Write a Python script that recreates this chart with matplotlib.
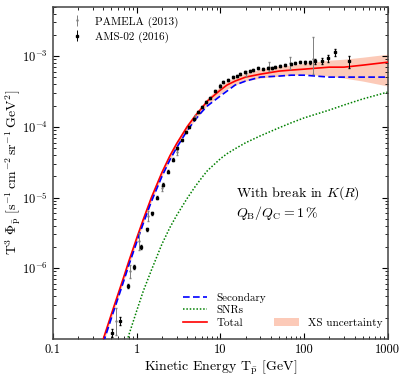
import matplotlib
matplotlib.use('Agg')
import matplotlib.pyplot as plt
import numpy as np
from matplotlib.lines import Line2D
from matplotlib.patches import Patch
from matplotlib.ticker import FixedLocator, FixedFormatter, LogLocator, NullFormatter

plt.rcParams['font.family'] = 'serif'
plt.rcParams['font.serif'] = ['cmr10', 'DejaVu Serif']
plt.rcParams['mathtext.fontset'] = 'cm'
plt.rcParams['axes.formatter.use_mathtext'] = True

# ---- model curves ----
T_grid = [0.4, 0.5, 0.6, 0.7, 0.8, 1, 1.2, 1.5, 2, 2.5, 3, 4, 5, 6, 7, 10, 12, 15, 20, 30, 50, 70,
          100, 200, 300, 500, 1000]
total = [1.0e-7, 2.25e-7, 4.31e-7, 7.46e-7, 1.22e-6, 2.65e-6, 4.90e-6, 1.0e-5, 2.25e-5, 3.91e-5,
         5.77e-5, 1.0e-4, 1.43e-4, 1.85e-4, 2.32e-4, 3.32e-4, 3.91e-4, 4.45e-4, 5.06e-4, 5.57e-4,
         6.15e-4, 6.36e-4, 6.56e-4, 7.0e-4, 7.0e-4, 7.47e-4, 8.23e-4]
secondary = [8.8e-8, 1.98e-7, 3.78e-7, 6.56e-7, 1.07e-6, 2.32e-6, 4.31e-6, 8.79e-6, 1.98e-5, 3.43e-5,
             5.06e-5, 8.79e-5, 1.26e-4, 1.63e-4, 1.98e-4, 2.74e-4, 3.21e-4, 3.91e-4, 4.45e-4, 5.06e-4,
             5.23e-4, 5.39e-4, 5.39e-4, 5.06e-4, 5.06e-4, 5.06e-4, 5.06e-4]
xs_hi = [1.10e-7, 2.48e-7, 4.74e-7, 8.22e-7, 1.34e-6, 2.92e-6, 5.40e-6, 1.10e-5, 2.48e-5, 4.31e-5,
         6.35e-5, 1.10e-4, 1.57e-4, 2.04e-4, 2.56e-4, 3.78e-4, 4.45e-4, 5.06e-4, 5.76e-4, 6.56e-4,
         7.23e-4, 7.47e-4, 7.97e-4, 8.78e-4, 9.07e-4, 9.68e-4, 1.067e-3]
xs_lo = [8.8e-8, 1.98e-7, 3.78e-7, 6.56e-7, 1.07e-6, 2.32e-6, 4.31e-6, 8.79e-6, 1.98e-5, 3.43e-5,
         5.06e-5, 8.79e-5, 1.26e-4, 1.63e-4, 2.04e-4, 2.92e-4, 3.43e-4, 3.91e-4, 4.45e-4, 4.90e-4,
         5.23e-4, 5.39e-4, 5.57e-4, 5.23e-4, 4.90e-4, 4.45e-4, 3.78e-4]
T_snr = [0.7, 0.8, 1, 1.2, 1.5, 2, 2.5, 3, 4, 5, 6, 7, 10, 12, 15, 20, 30, 50, 70, 100, 200, 300,
         500, 1000]
snr = [6.15e-8, 1.10e-7, 2.48e-7, 4.74e-7, 9.37e-7, 2.18e-6, 3.78e-6, 5.57e-6, 9.68e-6, 1.43e-5,
       1.91e-5, 2.40e-5, 3.54e-5, 4.17e-5, 4.90e-5, 5.96e-5, 7.46e-5, 9.68e-5, 1.14e-4, 1.34e-4,
       1.73e-4, 2.04e-4, 2.48e-4, 3.11e-4]

# ---- AMS-02 (2016) ----
ams_T = [0.507, 0.63, 0.787, 0.929, 1.125, 1.33, 1.52, 1.75, 2.06, 2.37, 2.72, 3.03, 3.48, 3.88, 4.22,
         4.84, 5.40, 6.03, 6.73, 7.51, 8.62, 9.89, 10.7, 12.3, 14.2, 15.8, 17.1, 19.7, 22.6, 24.5,
         28.1, 32.3, 37.1, 41.3, 44.9, 51.5, 59.2, 69.7, 77.8, 89.3, 103, 118, 135, 164, 193, 234, 344]
ams_F = [1.22e-7, 1.79e-7, 5.57e-7, 1.03e-6, 1.98e-6, 3.54e-6, 5.96e-6, 1.0e-5, 1.52e-5, 2.32e-5,
         3.43e-5, 5.06e-5, 6.56e-5, 8.5e-5, 1.0e-4, 1.30e-4, 1.63e-4, 1.91e-4, 2.25e-4, 2.56e-4,
         3.21e-4, 3.78e-4, 4.30e-4, 4.6e-4, 5.06e-4, 5.23e-4, 5.57e-4, 5.95e-4, 6.15e-4, 6.35e-4,
         6.78e-4, 6.56e-4, 6.78e-4, 6.78e-4, 7.0e-4, 7.23e-4, 7.47e-4, 7.71e-4, 7.97e-4, 8.23e-4,
         8.23e-4, 8.23e-4, 8.5e-4, 8.5e-4, 9.37e-4, 1.14e-3, 8.5e-4]
ams_rel = [0.12, 0.12, 0.06, 0.06, 0.06, 0.05, 0.05, 0.05, 0.04, 0.04,
           0.04, 0.04, 0.04, 0.04, 0.04, 0.04, 0.04, 0.04, 0.04, 0.04,
           0.04, 0.04, 0.04, 0.04, 0.04, 0.04, 0.04, 0.04, 0.04, 0.04,
           0.04, 0.04, 0.04, 0.04, 0.04, 0.04, 0.04, 0.04, 0.04, 0.04,
           0.05, 0.05, 0.08, 0.10, 0.12, 0.12, 0.20]

# ---- PAMELA (2013) ----
pam_T = [0.566, 0.832, 1.065, 1.36, 2.0, 3.0, 5.0, 10.0, 20.0, 38.0, 68.0, 128.0]
pam_F = [1.8e-7, 9.0e-7, 2.4e-6, 5.4e-6, 1.35e-5, 4.4e-5, 1.38e-4, 3.8e-4, 5.7e-4, 7.0e-4, 7.97e-4, 9.07e-4]
pam_lo = [0.66e-7, 1.8e-7, 0.6e-6, 0.8e-6, 1.2e-6, 3.5e-6, 1.0e-5, 2.5e-5, 4.0e-5, 0.9e-4, 1.4e-4, 3.5e-4]
pam_hi = [0.93e-7, 2.0e-7, 0.7e-6, 0.95e-6, 1.2e-6, 3.5e-6, 1.0e-5, 2.5e-5, 4.0e-5, 1.2e-4, 1.7e-4, 9.4e-4]

x_ticks = [0.1, 1, 10, 100, 1000]
x_ticklabels = ['0.1', '1', '10', '100', '1000']

BAND = '#fbb49b'

fig = plt.figure(figsize=(4.07, 3.79), dpi=100)
ax = fig.add_axes([0.130, 0.106, 0.823, 0.876])

ax.fill_between(T_grid, xs_lo, xs_hi, color=BAND, alpha=0.7, lw=0, zorder=1)
ax.plot(T_snr, snr, color='green', ls=(0, (1, 1.2)), lw=1.1, zorder=2)
ax.plot(T_grid, total, color='red', lw=1.2, zorder=3)
ax.plot(T_grid, secondary, color='blue', ls=(0, (4, 2)), lw=1.2, zorder=4)

ams_err = np.array(ams_F) * np.array(ams_rel)
ax.errorbar(pam_T, pam_F, yerr=[pam_lo, pam_hi], fmt='.', color='gray', ms=1.5, lw=0.7,
            capsize=0.8, zorder=5)
ax.errorbar(ams_T, ams_F, yerr=ams_err, fmt='s', color='black', ms=1.6, lw=0.7,
            capsize=0.8, zorder=6)

ax.set_xscale('log')
ax.set_yscale('log')
ax.set_xlim(0.1, 1000)
ax.set_ylim(1e-7, 5e-3)
ax.xaxis.set_major_locator(FixedLocator(x_ticks))
ax.xaxis.set_major_formatter(FixedFormatter(x_ticklabels))
ax.xaxis.set_minor_locator(LogLocator(base=10, subs=np.arange(2, 10)))
ax.xaxis.set_minor_formatter(NullFormatter())
ax.yaxis.set_major_locator(FixedLocator([1e-6, 1e-5, 1e-4, 1e-3]))
ax.yaxis.set_minor_locator(LogLocator(base=10, subs=np.arange(2, 10), numticks=20))
ax.yaxis.set_minor_formatter(NullFormatter())
ax.tick_params(which='both', direction='in', top=True, right=True, labelsize=9)
ax.tick_params(which='major', length=4)
ax.tick_params(which='minor', length=2)
for s in ax.spines.values():
    s.set_color('#444444')
    s.set_linewidth(1.1)

ax.set_xlabel(r'Kinetic Energy T$_{\bar{\mathrm{p}}}$ [GeV]', fontsize=10, labelpad=2)
ax.set_ylabel(r'$\mathrm{T}^3\ \Phi_{\bar{\mathrm{p}}}\ [\mathrm{s}^{-1}\,\mathrm{cm}^{-2}\,\mathrm{sr}^{-1}\,\mathrm{GeV}^2]$',
              fontsize=10)
ax.yaxis.set_label_coords(-0.088, 0.5)

ax.text(0.546, 0.44, r'With break in $K(R)$', transform=ax.transAxes, fontsize=10, va='center')
ax.text(0.546, 0.38, r'$Q_{\rm B}/Q_{\rm C} = 1\,\%$', transform=ax.transAxes, fontsize=10, va='center')

# data legend
h_pam = ax.errorbar([], [], yerr=[], fmt='.', color='gray', ms=1.5, lw=0.7)
h_ams = ax.errorbar([], [], yerr=[], fmt='s', color='black', ms=1.6, lw=0.7)
leg1 = ax.legend([h_pam, h_ams], ['PAMELA (2013)', 'AMS-02 (2016)'], loc='upper left',
                 frameon=False, fontsize=8, handlelength=1.5, labelspacing=0.35,
                 bbox_to_anchor=(0.035, 0.985), borderaxespad=0)
ax.add_artist(leg1)

# model legend
h_sec = Line2D([], [], color='blue', ls=(0, (4, 2)), lw=1.2)
h_snr = Line2D([], [], color='green', ls=(0, (1, 1.2)), lw=1.1)
h_tot = Line2D([], [], color='red', lw=1.2)
leg2 = ax.legend([h_sec, h_snr, h_tot], ['Secondary', 'SNRs', 'Total'], loc='lower left',
                 frameon=False, fontsize=8, handlelength=2.2, labelspacing=0.25,
                 bbox_to_anchor=(0.375, 0.02), borderaxespad=0)
ax.add_artist(leg2)
h_xs = Patch(facecolor=BAND, alpha=0.7, edgecolor='none')
ax.legend([h_xs], ['XS uncertainty'], loc='lower left', frameon=False, fontsize=8,
          handlelength=2.2, bbox_to_anchor=(0.648, 0.02), borderaxespad=0)

fig.savefig('out.png', dpi=100)
